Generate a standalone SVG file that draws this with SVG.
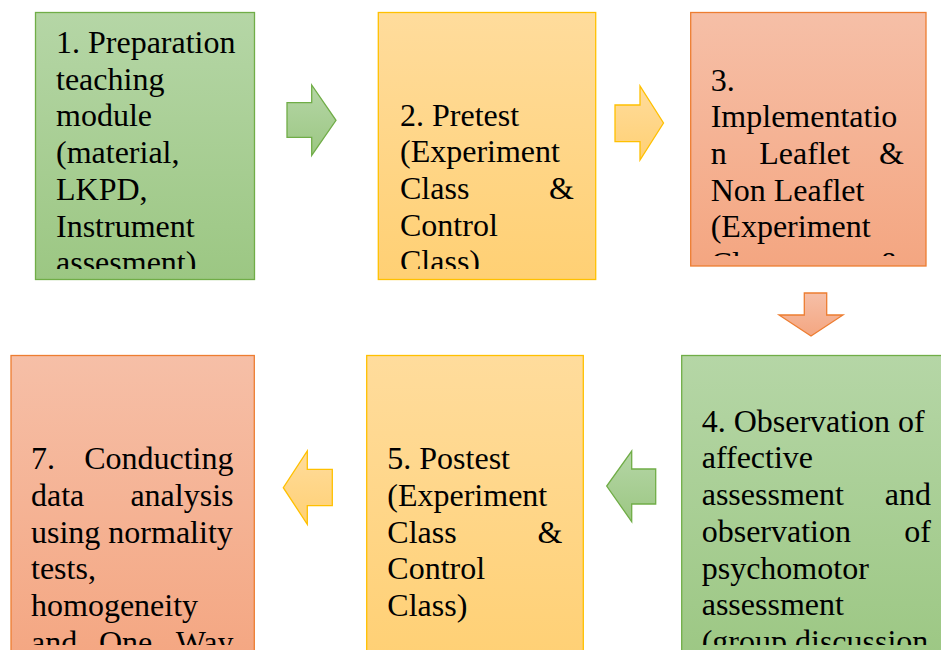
<svg xmlns="http://www.w3.org/2000/svg" width="941" height="650" viewBox="0 0 941 650">
<defs>
<linearGradient id="gG" x1="0" y1="0" x2="0" y2="1"><stop offset="0" stop-color="#b5d6a6"/><stop offset="1" stop-color="#9cc783"/></linearGradient>
<linearGradient id="gY" x1="0" y1="0" x2="0" y2="1"><stop offset="0" stop-color="#ffdc9c"/><stop offset="1" stop-color="#ffd074"/></linearGradient>
<linearGradient id="gO" x1="0" y1="0" x2="0" y2="1"><stop offset="0" stop-color="#f6bfa7"/><stop offset="1" stop-color="#f4a681"/></linearGradient>
<clipPath id="c1"><rect x="36" y="13" width="219" height="256"/></clipPath>
<clipPath id="c2"><rect x="378" y="13" width="218" height="256"/></clipPath>
<clipPath id="c3"><rect x="691" y="13" width="235" height="243"/></clipPath>
<clipPath id="c4"><rect x="682" y="356" width="259" height="289"/></clipPath>
<clipPath id="c5"><rect x="367" y="356" width="216" height="289"/></clipPath>
<clipPath id="c7"><rect x="11" y="356" width="243" height="289"/></clipPath>
</defs>
<style>
.t{font-family:"Liberation Serif","Times New Roman",serif;font-size:32px;fill:#000}
.e{text-anchor:end}
.g{fill:url(#gG);stroke:#70ad47;stroke-width:1.3}
.y{fill:url(#gY);stroke:#ffc000;stroke-width:1.3}
.o{fill:url(#gO);stroke:#ed7d31;stroke-width:1.3}
</style>
<g id="connectors">
<polygon class="g" points="287,102.7 311.7,102.7 311.7,85 336,120.3 311.7,155.3 311.7,137.3 287,137.3"/>
<polygon class="y" points="615,105 640,105 640,86 663.5,123 640,160 640,141.7 615,141.7"/>
<polygon class="o" points="804.3,293 826.7,293 826.7,315 843,315 811,336 779,315 804.3,315"/>
<polygon class="g" points="655.7,469 631.7,469 631.7,451 606.7,486 631.7,521.7 631.7,504 655.7,504"/>
<polygon class="y" points="332.3,469.3 307.3,469.3 307.3,451 283.3,487.7 307.3,524.3 307.3,505.7 332.3,505.7"/>
</g>
<g id="node1">
<rect class="g" x="35.5" y="12.5" width="219" height="267"/>
<g clip-path="url(#c1)" class="t">
<text x="56" y="53">1. Preparation</text>
<text x="56" y="89.7">teaching</text>
<text x="56" y="126.4">module</text>
<text x="56" y="163.1">(material,</text>
<text x="56" y="199.8">LKPD,</text>
<text x="56" y="236.5">Instrument</text>
<text x="56" y="273.2">assesment)</text>
</g>
</g>
<g id="node2">
<rect class="y" x="378.3" y="12.5" width="217.4" height="267"/>
<g clip-path="url(#c2)" class="t">
<text x="400" y="125.5">2. Pretest</text>
<text x="400" y="162.2">(Experiment</text>
<text x="400" y="198.9">Class</text><text class="e" x="574" y="198.9">&amp;</text>
<text x="400" y="235.6">Control</text>
<text x="400" y="272.3">Class)</text>
</g>
</g>
<g id="node3">
<rect class="o" x="690.7" y="12.5" width="235.3" height="253.5"/>
<g clip-path="url(#c3)" class="t">
<text x="710.7" y="90.5">3.</text>
<text x="710.7" y="127.2">Implementatio</text>
<text x="710.7" y="163.9">n</text><text x="759.3" y="163.9">Leaflet</text><text class="e" x="904" y="163.9">&amp;</text>
<text x="710.7" y="200.6">Non Leaflet</text>
<text x="710.7" y="237.3">(Experiment</text>
<text x="710.7" y="274">Class</text><text class="e" x="904" y="274">&amp;</text>
</g>
</g>
<g id="node4">
<rect class="g" x="681.7" y="355.5" width="270" height="310"/>
<g clip-path="url(#c4)" class="t">
<text x="701.7" y="431.7">4. Observation of</text>
<text x="701.7" y="468.4">affective</text>
<text x="701.7" y="505.1">assessment</text><text class="e" x="931" y="505.1">and</text>
<text x="701.7" y="541.8">observation</text><text class="e" x="931" y="541.8">of</text>
<text x="701.7" y="578.5">psychomotor</text>
<text x="701.7" y="615.2">assessment</text>
<text x="701.7" y="651.9">(group discussion</text>
</g>
</g>
<g id="node5">
<rect class="y" x="366.7" y="355.5" width="216.6" height="310"/>
<g clip-path="url(#c5)" class="t">
<text x="387.3" y="469.3">5. Postest</text>
<text x="387.3" y="506">(Experiment</text>
<text x="387.3" y="542.7">Class</text><text class="e" x="562.5" y="542.7">&amp;</text>
<text x="387.3" y="579.4">Control</text>
<text x="387.3" y="616.1">Class)</text>
</g>
</g>
<g id="node7">
<rect class="o" x="11" y="355.5" width="243.3" height="310"/>
<g clip-path="url(#c7)" class="t">
<text x="31" y="469.3">7.</text><text class="e" x="233.5" y="469.3">Conducting</text>
<text x="31" y="506">data</text><text class="e" x="233.5" y="506">analysis</text>
<text x="31" y="542.7">using normality</text>
<text x="31" y="579.4">tests,</text>
<text x="31" y="616.1">homogeneity</text>
<text x="31" y="652.8">and</text><text x="99" y="652.8">One</text><text class="e" x="233.5" y="652.8">Way</text>
</g>
</g>
</svg>
